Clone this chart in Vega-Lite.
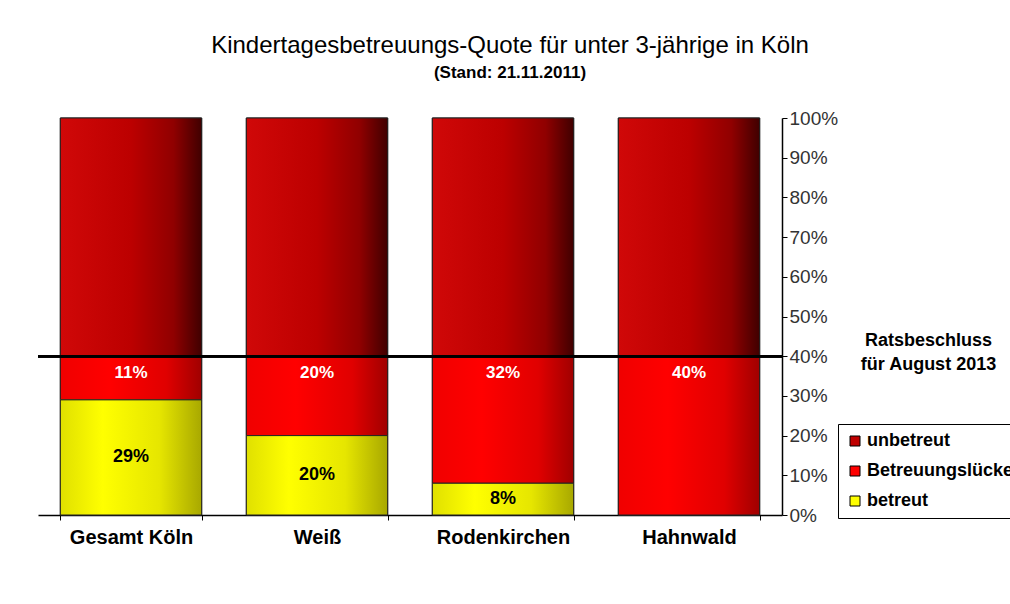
{
  "$schema": "https://vega.github.io/schema/vega-lite/v6.json",
  "autosize": "none",
  "width": 744,
  "height": 397,
  "padding": {"left": 38, "top": 118, "right": 228, "bottom": 89},
  "background": "white",
  "config": {
    "font": "Liberation Sans",
    "view": {"stroke": null}
  },
  "title": {
    "text": "Kindertagesbetreuungs-Quote für unter 3-jährige in Köln",
    "subtitle": "(Stand: 21.11.2011)",
    "anchor": "middle",
    "frame": "group",
    "dx": 100,
    "offset": 28,
    "fontSize": 24,
    "fontWeight": "normal",
    "color": "#000000",
    "subtitleFontSize": 17,
    "subtitleFontWeight": "bold",
    "subtitleColor": "#000000",
    "subtitlePadding": 7
  },
  "data": {
    "values": [
      {"cat": "Gesamt Köln", "type": "betreut", "value": 29, "k": 1},
      {"cat": "Gesamt Köln", "type": "Betreuungslücke", "value": 11, "k": 2},
      {"cat": "Gesamt Köln", "type": "unbetreut", "value": 60, "k": 3},
      {"cat": "Weiß", "type": "betreut", "value": 20, "k": 1},
      {"cat": "Weiß", "type": "Betreuungslücke", "value": 20, "k": 2},
      {"cat": "Weiß", "type": "unbetreut", "value": 60, "k": 3},
      {"cat": "Rodenkirchen", "type": "betreut", "value": 8, "k": 1},
      {"cat": "Rodenkirchen", "type": "Betreuungslücke", "value": 32, "k": 2},
      {"cat": "Rodenkirchen", "type": "unbetreut", "value": 60, "k": 3},
      {"cat": "Hahnwald", "type": "betreut", "value": 0, "k": 1},
      {"cat": "Hahnwald", "type": "Betreuungslücke", "value": 40, "k": 2},
      {"cat": "Hahnwald", "type": "unbetreut", "value": 60, "k": 3}
    ]
  },
  "transform": [
    {"stack": "value", "groupby": ["cat"], "sort": [{"field": "k", "order": "ascending"}], "as": ["v0", "v1"]},
    {"calculate": "(datum.v0 + datum.v1) / 2", "as": "mid"},
    {"calculate": "datum.value + '%'", "as": "lab"}
  ],
  "encoding": {
    "x": {
      "field": "cat",
      "type": "nominal",
      "sort": ["Gesamt Köln", "Weiß", "Rodenkirchen", "Hahnwald"],
      "scale": {"paddingInner": 0.24, "paddingOuter": 0.12},
      "axis": {
        "title": null,
        "labelAngle": 0,
        "labelFontSize": 20,
        "labelFontWeight": "bold",
        "labelColor": "#000000",
        "labelPadding": 7,
        "tickBand": "extent",
        "tickSize": 5,
        "tickColor": "#000000",
        "domainColor": "#000000",
        "domainWidth": 1.5
      }
    },
    "y": {
      "field": "v0",
      "type": "quantitative",
      "scale": {"domain": [0, 100], "nice": false},
      "axis": {
        "orient": "right",
        "values": [0, 10, 20, 30, 40, 50, 60, 70, 80, 90, 100],
        "labelExpr": "datum.value + '%'",
        "labelFontSize": 19,
        "labelColor": "#333333",
        "labelPadding": 2,
        "tickSize": 5,
        "tickColor": "#000000",
        "domainColor": "#000000",
        "domainWidth": 1.5,
        "grid": false,
        "title": ["Ratsbeschluss", "für August 2013"],
        "titleAngle": 0,
        "titleAlign": "center",
        "titleBaseline": "top",
        "titleX": 146,
        "titleY": 213,
        "titleFontSize": 18,
        "titleFontWeight": "bold",
        "titleColor": "#000000",
        "titleLineHeight": 24
      }
    }
  },
  "layer": [
    {
      "mark": {"type": "bar", "stroke": "#222222", "strokeWidth": 1},
      "encoding": {
        "y2": {"field": "v1"},
        "color": {
          "field": "type",
          "type": "nominal",
          "scale": {
            "domain": ["unbetreut", "Betreuungslücke", "betreut"],
            "range": ["#c00000", "#ff0000", "#ffff00"]
          },
          "legend": {
            "title": null,
            "orient": "none",
            "legendX": 800,
            "legendY": 306,
            "direction": "vertical",
            "fillColor": "#ffffff",
            "strokeColor": "#000000",
            "padding": 8,
            "symbolType": "square",
            "symbolSize": 100,
            "symbolStrokeColor": "#000000",
            "symbolStrokeWidth": 1,
            "labelFontSize": 18,
            "labelFontWeight": "bold",
            "labelColor": "#000000",
            "labelOffset": 3,
            "labelLimit": 300,
            "rowPadding": 12
          }
        }
      }
    },
    {
      "transform": [{"filter": "datum.type == 'unbetreut'"}],
      "mark": {"type": "bar", "stroke": "#222222", "strokeWidth": 1,
        "fill": {"gradient": "linear", "x1": 0, "y1": 0, "x2": 1, "y2": 0, "stops": [
          {"offset": 0, "color": "#d00808"},
          {"offset": 0.5, "color": "#bc0000"},
          {"offset": 0.8, "color": "#900000"},
          {"offset": 1, "color": "#400000"}]}},
      "encoding": {
        "y2": {"field": "v1"}
      }
    },
    {
      "transform": [{"filter": "datum.type == 'Betreuungslücke'"}],
      "mark": {"type": "bar", "stroke": "#222222", "strokeWidth": 1,
        "fill": {"gradient": "linear", "x1": 0, "y1": 0, "x2": 1, "y2": 0, "stops": [
          {"offset": 0, "color": "#f00000"},
          {"offset": 0.35, "color": "#ff0000"},
          {"offset": 0.75, "color": "#e00000"},
          {"offset": 1, "color": "#a00000"}]}},
      "encoding": {
        "y2": {"field": "v1"}
      }
    },
    {
      "transform": [{"filter": "datum.type == 'betreut' && datum.value > 0"}],
      "mark": {"type": "bar", "stroke": "#222222", "strokeWidth": 1,
        "fill": {"gradient": "linear", "x1": 0, "y1": 0, "x2": 1, "y2": 0, "stops": [
          {"offset": 0, "color": "#e0e000"},
          {"offset": 0.3, "color": "#ffff00"},
          {"offset": 0.7, "color": "#e6e600"},
          {"offset": 1, "color": "#a8a800"}]}},
      "encoding": {
        "y2": {"field": "v1"}
      }
    },
    {
      "mark": {"type": "rule", "color": "#000000", "strokeWidth": 2},
      "encoding": {"y": {"datum": 40, "type": "quantitative"}, "x": null}
    },
    {
      "transform": [{"filter": "datum.type == 'betreut' && datum.value > 0"}],
      "mark": {"type": "text", "fontSize": 18, "fontWeight": "bold", "color": "#000000", "baseline": "middle"},
      "encoding": {
        "y": {"field": "mid", "type": "quantitative"},
        "text": {"field": "lab"}
      }
    },
    {
      "transform": [{"filter": "datum.type == 'Betreuungslücke'"}],
      "mark": {"type": "text", "fontSize": 17, "fontWeight": "bold", "color": "#ffffff", "baseline": "middle", "dy": 17},
      "encoding": {
        "y": {"field": "v1", "type": "quantitative"},
        "text": {"field": "lab"}
      }
    }
  ]
}
